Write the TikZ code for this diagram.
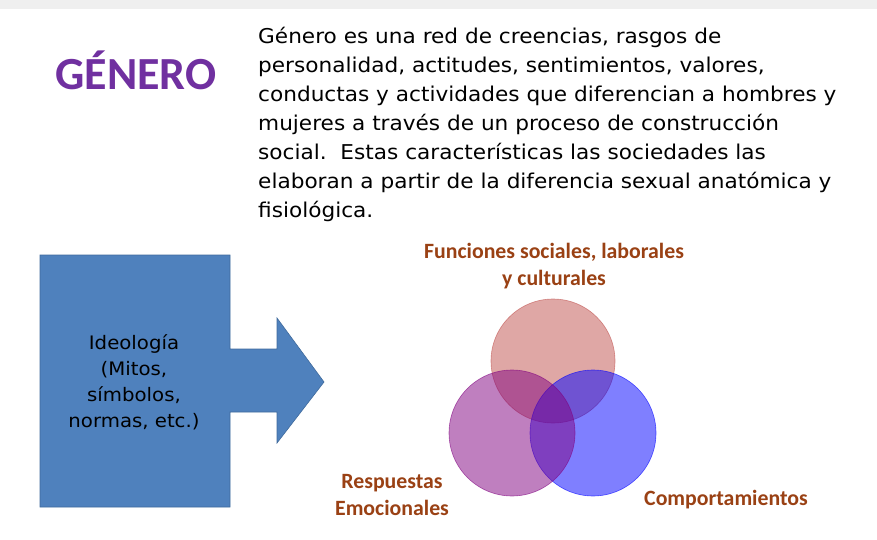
\documentclass[tikz,border=0pt]{standalone}
\usepackage{fontspec}
\setmainfont{DejaVu Sans}[FakeStretch=1.06]
\newfontfamily\labelfont{Carlito}
\definecolor{boxblue}{HTML}{4F81BD}
\definecolor{boxedge}{HTML}{3F6A9C}
\definecolor{titlepurple}{HTML}{7030A0}
\definecolor{labelbrown}{HTML}{9A4114}
\definecolor{funcred}{HTML}{C0504D}
\definecolor{emopurple}{HTML}{800080}
\definecolor{compblue}{HTML}{0000FF}
\definecolor{bandgray}{HTML}{EFEFEF}
\tikzset{
  venn/.style={draw=#1, fill=#1, fill opacity=0.5, draw opacity=0.6, line width=0.6pt},
  vennlabel/.style={text=labelbrown, font=\labelfont\bfseries\fontsize{21.8}{27}\selectfont, align=center},
}
\frenchspacing
\begin{document}
\begin{tikzpicture}[x=1pt,y=-1pt]
                \useasboundingbox (0,0) rectangle (877,540);
                \fill [bandgray] (0,0) rectangle (877,9);
                \fill [white] (14,9) rectangle (877,540);
                % title and definition
                \node (titulo) [text=titlepurple, font=\labelfont\bfseries\fontsize{46}{46}\selectfont] at (136,70) {GÉNERO};
                \node (definicion) [anchor=north west, align=left, inner sep=0pt,
                  font=\fontsize{20.4}{29}\selectfont] at (258,27)
                  {Género es una red de creencias, rasgos de\\
                   personalidad, actitudes, sentimientos, valores,\\
                   conductas y actividades que diferencian a hombres y\\
                   mujeres a través de un proceso de construcción\\
                   social.\ \ Estas características las sociedades las\\
                   elaboran a partir de la diferencia sexual anatómica y\\
                   fisiológica.};
                % block arrow
                \draw [boxedge, fill=boxblue, line width=0.6pt]
                  (40,255) -- (230,255) -- (230,349) -- (277,349) -- (277,318)
                  -- (324,382) -- (277,443) -- (277,412) -- (230,412)
                  -- (230,507) -- (40,507) -- cycle;
                \node (ideologia) [align=center, font=\fontsize{18.6}{26}\selectfont] at (134,382)
                  {Ideología\\(Mitos,\\símbolos,\\normas, etc.)};
                % three circles
                \draw [venn=funcred] (553,361) circle (62);
                \draw [venn=compblue] (593,433) circle (63);
                \draw [venn=emopurple] (512,433) circle (63);
                \node (funciones) [vennlabel] at (554,266) {Funciones sociales, laborales\\y culturales};
                \node (respuestas) [vennlabel] at (392,495) {Respuestas\\Emocionales};
                \node (comportamientos) [vennlabel] at (726,500) {Comportamientos};
            \end{tikzpicture}
\end{document}
